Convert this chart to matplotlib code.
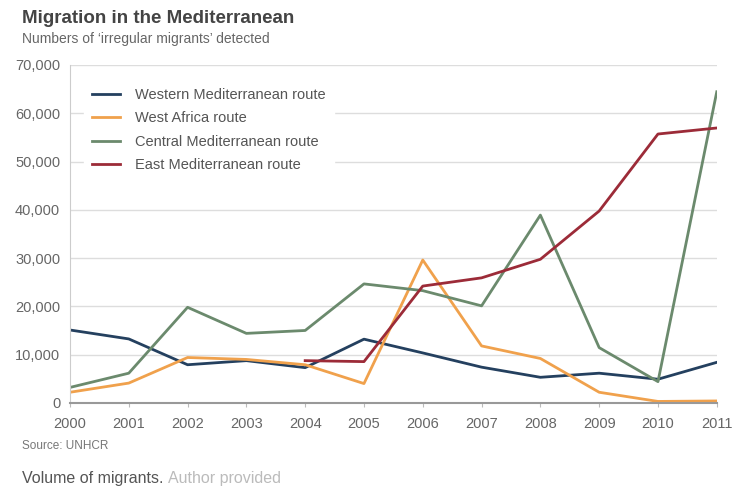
import matplotlib
matplotlib.use("Agg")
import matplotlib.pyplot as plt

# Values
years = list(range(2000, 2012))
western_med = [15100, 13250, 7900, 8750, 7300, 13200, 10350, 7400, 5300, 6150, 4900, 8400]
west_africa = [2200, 4100, 9400, 9000, 7900, 4000, 29600, 11800, 9200, 2200, 300, 400]
central_med = [3200, 6150, 19800, 14400, 15000, 24650, 23250, 20100, 38900, 11450, 4400, 64450]
east_years = list(range(2004, 2012))
east_med = [8750, 8550, 24200, 25900, 29750, 39750, 55700, 56950]

y_ticks = [0, 10000, 20000, 30000, 40000, 50000, 60000, 70000]

COLORS = {
    "western": "#24405f",
    "africa": "#f0a14c",
    "central": "#6b8a6d",
    "east": "#9c2b38",
}

plt.rcParams["font.family"] = ["Liberation Sans", "DejaVu Sans"]

fig = plt.figure(figsize=(7.42, 4.98), dpi=100)
ax = fig.add_axes([0.0943, 0.191, 0.8717, 0.6785])

ax.plot(years, western_med, color=COLORS["western"], lw=2, label="Western Mediterranean route")
ax.plot(years, west_africa, color=COLORS["africa"], lw=2, label="West Africa route")
ax.plot(years, central_med, color=COLORS["central"], lw=2, label="Central Mediterranean route")
ax.plot(east_years, east_med, color=COLORS["east"], lw=2, label="East Mediterranean route")

ax.set_xlim(2000, 2011)
ax.set_ylim(0, 70000)
ax.set_xticks(years)
ax.set_xticklabels([str(y) for y in years])
ax.set_yticks(y_ticks)
ax.set_yticklabels([f"{v:,}" for v in y_ticks])
ax.tick_params(axis="both", labelsize=10.5, colors="#666666", labelcolor="#666666")
ax.tick_params(axis="y", length=0, pad=7)
ax.tick_params(axis="x", length=3, color="#bbbbbb", pad=7)

ax.grid(axis="y", color="#dddddd", lw=1)
ax.set_axisbelow(True)
for side in ["top", "right"]:
    ax.spines[side].set_visible(False)
ax.spines["left"].set_color("#cccccc")
ax.spines["bottom"].set_color("#999999")
ax.spines["bottom"].set_linewidth(1.5)

leg = ax.legend(loc="upper left", bbox_to_anchor=(0.01, 0.98), frameon=True,
                fontsize=10.5, handlelength=1.9, handletextpad=1.0,
                labelspacing=0.65, borderpad=0.6)
leg.get_frame().set_facecolor("white")
leg.get_frame().set_edgecolor("white")
leg.get_frame().set_alpha(1)
for t in leg.get_texts():
    t.set_color("#555555")

fig.text(0.03, 0.963, "Migration in the Mediterranean", fontsize=13.5,
         fontweight="bold", color="#444444", va="center")
fig.text(0.03, 0.922, "Numbers of \u2018irregular migrants\u2019 detected", fontsize=10,
         color="#666666", va="center")
fig.text(0.03, 0.104, "Source: UNHCR", fontsize=8.5, color="#777777", va="center")
t1 = fig.text(0.03, 0.040, "Volume of migrants. ", fontsize=11.5, color="#555555", va="center")
fig.canvas.draw()
bb = t1.get_window_extent()
fig.text(bb.x1 / fig.bbox.width, 0.040, "Author provided", fontsize=11.5,
         color="#bbbbbb", va="center")

fig.savefig("out.png", dpi=100)
